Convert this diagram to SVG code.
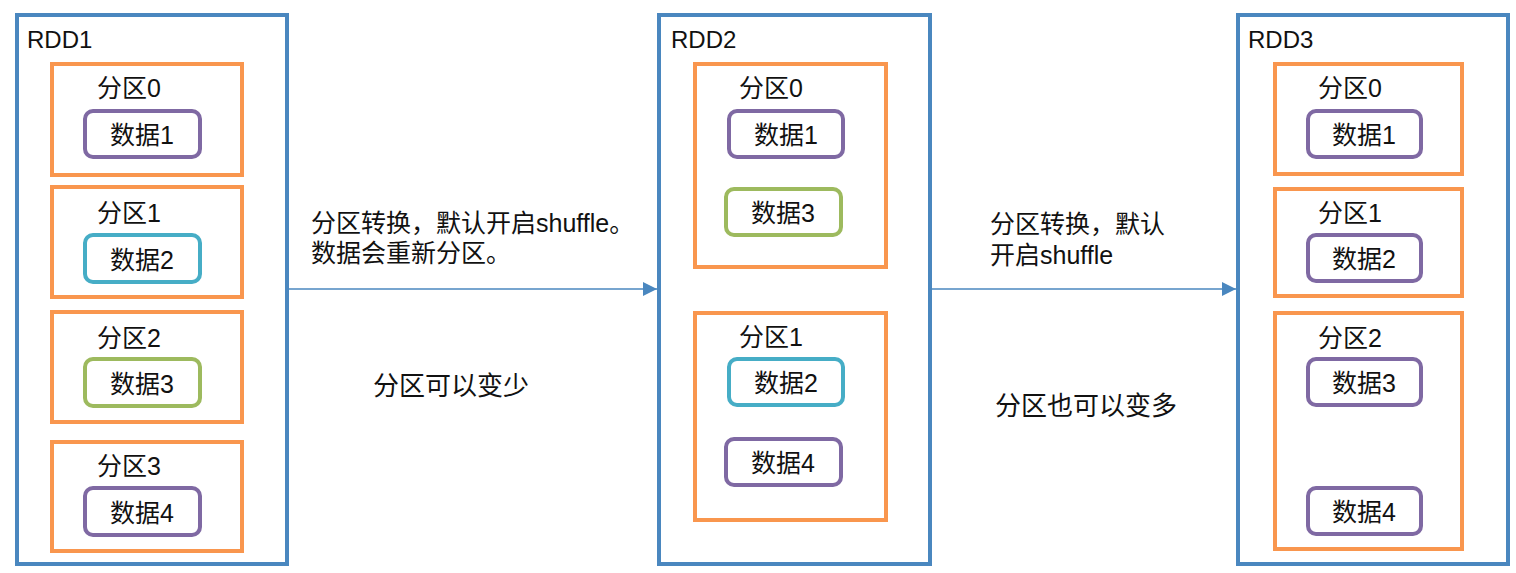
<svg xmlns="http://www.w3.org/2000/svg" width="1516" height="573" viewBox="0 0 1516 573">
<style>
text{font-family:"Liberation Sans","Noto Sans CJK SC",sans-serif;font-size:25px;fill:#111}
.rl{font-size:24px}
.big{font-size:26px}
.rdd{fill:#fff;stroke:#4A87BF;stroke-width:4}
.part{fill:#fff;stroke:#F9964E;stroke-width:4}
.d{fill:#fff;stroke-width:4}
.pu{stroke:#7F69A3}
.cy{stroke:#46ADC6}
.gr{stroke:#9DBA5E}
.dt{text-anchor:middle}
.conn{stroke:#4A87BF;stroke-width:1.5;fill:none}
</style>
<defs>
<marker id="ah" markerWidth="14" markerHeight="14" refX="14" refY="7" orient="auto" markerUnits="userSpaceOnUse">
<path d="M0,0 L14,7 L0,14 Z" fill="#4A87BF"/>
</marker>
</defs>
<rect width="1516" height="573" fill="#fff"/>
<g id="rdd1">
<rect class="rdd" x="17" y="15" width="270" height="549"/>
<text class="rl" x="27" y="48">RDD1</text>
<g id="rdd1-p0"><rect class="part" x="52" y="64" width="190" height="111"/><text x="97" y="97">分区0</text>
<rect class="d pu" x="85" y="111" width="115" height="46" rx="8"/><text class="dt" x="142" y="144">数据1</text></g>
<g id="rdd1-p1"><rect class="part" x="52" y="187" width="190" height="110"/><text x="97" y="222">分区1</text>
<rect class="d cy" x="85" y="235" width="115" height="47" rx="8"/><text class="dt" x="142" y="269">数据2</text></g>
<g id="rdd1-p2"><rect class="part" x="52" y="312" width="190" height="110"/><text x="97" y="347">分区2</text>
<rect class="d gr" x="85" y="359" width="115" height="47" rx="8"/><text class="dt" x="142" y="393">数据3</text></g>
<g id="rdd1-p3"><rect class="part" x="52" y="442" width="190" height="109"/><text x="97" y="475">分区3</text>
<rect class="d pu" x="85" y="488" width="115" height="47" rx="8"/><text class="dt" x="142" y="522">数据4</text></g>
</g>
<g id="rdd2">
<rect class="rdd" x="659" y="15" width="271" height="549"/>
<text class="rl" x="671" y="48">RDD2</text>
<g id="rdd2-p0"><rect class="part" x="695" y="64" width="191" height="203"/><text x="739" y="97">分区0</text>
<rect class="d pu" x="729" y="111" width="114" height="46" rx="8"/><text class="dt" x="786" y="144">数据1</text>
<rect class="d gr" x="726" y="189" width="115" height="46" rx="8"/><text class="dt" x="783" y="222">数据3</text></g>
<g id="rdd2-p1"><rect class="part" x="695" y="313" width="191" height="207"/><text x="739" y="346">分区1</text>
<rect class="d cy" x="729" y="359" width="114" height="46" rx="8"/><text class="dt" x="786" y="392">数据2</text>
<rect class="d pu" x="726" y="439" width="115" height="46" rx="8"/><text class="dt" x="783" y="472">数据4</text></g>
</g>
<g id="rdd3">
<rect class="rdd" x="1238" y="15" width="270" height="549"/>
<text class="rl" x="1248" y="48">RDD3</text>
<g id="rdd3-p0"><rect class="part" x="1275" y="64" width="187" height="110"/><text x="1318" y="97">分区0</text>
<rect class="d pu" x="1308" y="111" width="113" height="46" rx="8"/><text class="dt" x="1364" y="144">数据1</text></g>
<g id="rdd3-p1"><rect class="part" x="1275" y="189" width="187" height="107"/><text x="1318" y="222">分区1</text>
<rect class="d pu" x="1308" y="235" width="113" height="46" rx="8"/><text class="dt" x="1364" y="268">数据2</text></g>
<g id="rdd3-p2"><rect class="part" x="1275" y="313" width="187" height="236"/><text x="1318" y="347">分区2</text>
<rect class="d pu" x="1308" y="359" width="113" height="46" rx="8"/><text class="dt" x="1364" y="392">数据3</text>
<rect class="d pu" x="1308" y="488" width="113" height="46" rx="8"/><text class="dt" x="1364" y="521">数据4</text></g>
</g>
<g id="connectors">
<line class="conn" x1="289" y1="289" x2="657" y2="289" marker-end="url(#ah)"/>
<line class="conn" x1="932" y1="289" x2="1236" y2="289" marker-end="url(#ah)"/>
</g>
<g id="labels">
<text x="311" y="232">分区转换，默认开启shuffle。</text>
<text x="311" y="262">数据会重新分区。</text>
<text class="big" x="373" y="395">分区可以变少</text>
<text x="990" y="233">分区转换，默认</text>
<text x="990" y="264">开启shuffle</text>
<text class="big" x="995" y="415">分区也可以变多</text>
</g>
</svg>
